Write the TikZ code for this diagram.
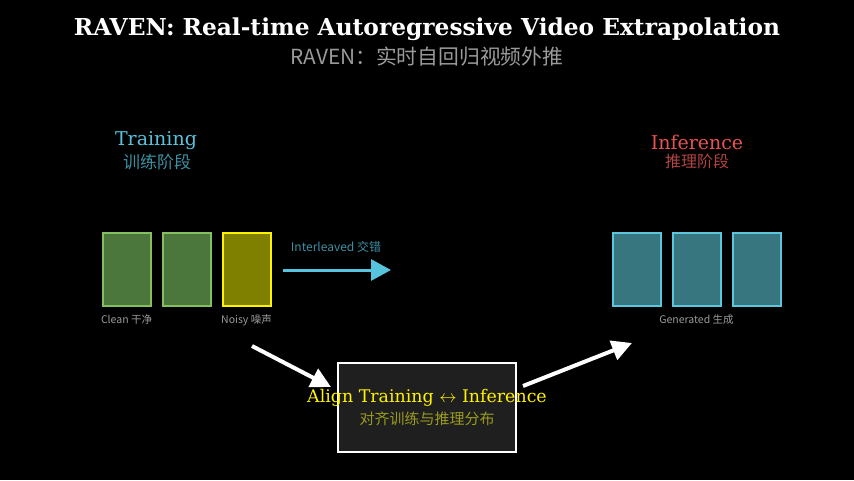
\documentclass[tikz,border=0pt]{standalone}
\usepackage{fontspec}
\setmainfont{DejaVu Serif}
\newfontfamily\cjk{Noto Sans CJK SC}
\usetikzlibrary{arrows.meta}
\usetikzlibrary{positioning}
\definecolor{tcyan}{HTML}{56C4DC}
\definecolor{tcyandim}{HTML}{3C8FA2}
\definecolor{ired}{HTML}{E8534F}
\definecolor{ireddim}{HTML}{B04440}
\definecolor{cleanfill}{HTML}{4B773D}
\definecolor{cleanedge}{HTML}{84BF62}
\definecolor{noisyfill}{HTML}{7F7F00}
\definecolor{genfill}{HTML}{37767F}
\definecolor{genedge}{HTML}{5BC6DC}
\definecolor{subgray}{HTML}{9A9A9A}
\definecolor{alignsub}{HTML}{9A9A1E}
\newcommand\fs[1]{\fontsize{#1}{#1}\selectfont}
\tikzstyle{frame}=[draw,line width=2pt,minimum width=48pt,minimum height=73pt,inner sep=0pt]
\tikzstyle{clean}=[frame,draw=cleanedge,fill=cleanfill]
\tikzstyle{noisy}=[frame,draw=yellow,fill=noisyfill]
\tikzstyle{gen}=[frame,draw=genedge,fill=genfill]
\tikzstyle{lbl}=[font=\cjk\fs{10.5},text=subgray,inner sep=0pt]
\tikzstyle{head}=[inner sep=0pt]
\tikzstyle{bigarrow}=[line width=4pt,white,-{Triangle[length=20pt,width=20pt]}]

\begin{document}
\begin{tikzpicture}[x=1pt,y=-1pt]
  \fill[black] (0,0) rectangle (854,480);
  \useasboundingbox (0,0) rectangle (854,480);
  % titles
  \node (title) at (427,29) {\fs{23.3}\bfseries\color{white}RAVEN: Real-time Autoregressive Video Extrapolation};
  \node (subtitle) at (427,57) {\cjk\fs{20.8}\color{subgray}RAVEN：实时自回归视频外推};
  \node[head] (train) at (156,141) {\fs{19}\color{tcyan}Training};
  \node[head] (trainzh) at (157,162) {\cjk\fs{17}\color{tcyandim}训练阶段};
  \node[head] (infer) at (697,142) {\fs{19}\color{ired}Inference};
  \node[head] (inferzh) at (697,161) {\cjk\fs{16}\color{ireddim}推理阶段};
  % frames
  \node[clean] (c1) at (126.5,269.5) {};
  \node[clean,right=10pt of c1] (c2) {};
  \node[noisy,right=10pt of c2] (n1) {};
  \node[gen] (g1) at (636.5,269.5) {};
  \node[gen,right=10pt of g1] (g2) {};
  \node[gen,right=10pt of g2] (g3) {};
  \node[lbl,below=7pt of c1] {Clean 干净};
  \node[lbl,below=7pt of n1] {Noisy 噪声};
  \node[lbl,below=7pt of g2] {Generated 生成};
  % interleave arrow
  \coordinate (ia) at (283,270);
  \coordinate (ib) at (391,270);
  \draw[tcyan,line width=3pt,-{Triangle[length=20pt,width=21pt]}] (ia) -- (ib)
    node[midway,above=16pt,lbl,font=\cjk\fs{12},text=tcyandim,xshift=-1pt] {Interleaved 交错};
  % align box
  \node[draw=white,line width=2pt,fill=black!88!white,minimum width=178pt,minimum height=89pt] (align) at (427,407.5) {};
  \node (aligntxt) at (427,398) {\fs{17.4}\color{yellow}Align Training $\leftrightarrow$ Inference};
  \node (alignzh) at (427,419) {\cjk\fs{15}\color{alignsub}对齐训练与推理分布};
  \coordinate (la) at (252,346);
  \coordinate (lb) at (331,387);
  \coordinate (ra) at (523,386);
  \coordinate (rb) at (632,343);
  \draw[bigarrow] (la) -- (lb);
  \draw[bigarrow] (ra) -- (rb);
\end{tikzpicture}
\end{document}
